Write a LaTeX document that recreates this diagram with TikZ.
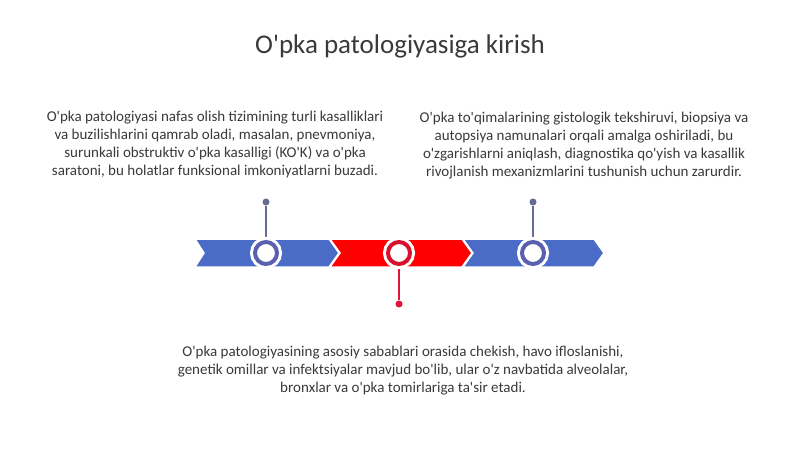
\documentclass[tikz,border=0pt]{standalone}
\usepackage{fontspec}
\setmainfont{Carlito}
\newcommand{\ap}{\textquotesingle}
\definecolor{chevblue}{HTML}{4A6BC6}
\definecolor{ringblue}{HTML}{5A5FAE}
\definecolor{chevred}{HTML}{FF0000}
\definecolor{ringred}{HTML}{D8122E}
\definecolor{pinblue}{HTML}{646C94}
\definecolor{pinred}{HTML}{E5123A}
\definecolor{txt}{HTML}{3A3A3A}
\tikzset{
  chev/.style={draw=white, line width=1.5pt, line join=miter},
  ring/.style={circle, draw=#1, line width=4pt, fill=white, minimum size=22pt, inner sep=0pt,
    preaction={draw=white, line width=10pt}},
  pindot/.style={circle, fill=#1, minimum size=7pt, inner sep=0pt},
  pin/.style={draw=#1, line width=1.3pt},
  body/.style={text=txt, align=center, font=\fontsize{15}{18}\selectfont},
}
\begin{document}
\begin{tikzpicture}[x=1pt,y=-1pt]
\useasboundingbox (0,0) rectangle (800,449);
\fill[white] (0,0) rectangle (800,449);
\node[text=txt, font=\fontsize{27}{30}\selectfont] (title) at (400,46) {O\ap pka patologiyasiga kirish};
\node[body] (t1) at (215,145) {O\ap pka patologiyasi nafas olish tizimining turli kasalliklari\\va buzilishlarini qamrab oladi, masalan, pnevmoniya,\\surunkali obstruktiv o\ap pka kasalligi (KO\ap K) va o\ap pka\\saratoni, bu holatlar funksional imkoniyatlarni buzadi.};
\node[body] (t2) at (584,146) {O\ap pka to\ap qimalarining gistologik tekshiruvi, biopsiya va\\autopsiya namunalari orqali amalga oshiriladi, bu\\o\ap zgarishlarni aniqlash, diagnostika qo\ap yish va kasallik\\rivojlanish mexanizmlarini tushunish uchun zarurdir.};
\node[body] (t3) at (403,371) {O\ap pka patologiyasining asosiy sabablari orasida chekish, havo ifloslanishi,\\genetik omillar va infektsiyalar mavjud bo\ap lib, ular o\ap z navbatida alveolalar,\\bronxlar va o\ap pka tomirlariga ta\ap sir etadi.};
% chevrons
\fill[chevblue, chev] (195,239) -- (329,239) -- (339,253) -- (329,267) -- (195,267) -- (204,253) -- cycle;
\fill[chevred, chev] (330,239) -- (462,239) -- (472,253) -- (462,267) -- (330,267) -- (340,253) -- cycle;
\fill[chevblue, chev] (463,239) -- (594,239) -- (604,253) -- (594,267) -- (463,267) -- (473,253) -- cycle;
% pins
\node[pindot=pinblue] (d1) at (266,202) {};
\node[pindot=pinblue] (d3) at (533,202) {};
\node[pindot=pinred] (d2) at (399,304) {};
\draw[pin=pinblue] (d1) -- (266,240);
\draw[pin=pinblue] (d3) -- (533,240);
\draw[pin=pinred] (d2) -- (399,266);
% rings
\node[ring=ringblue] (c1) at (266,253) {};
\node[ring=ringred] (c2) at (399,253) {};
\node[ring=ringblue] (c3) at (533,253) {};
\end{tikzpicture}
\end{document}
